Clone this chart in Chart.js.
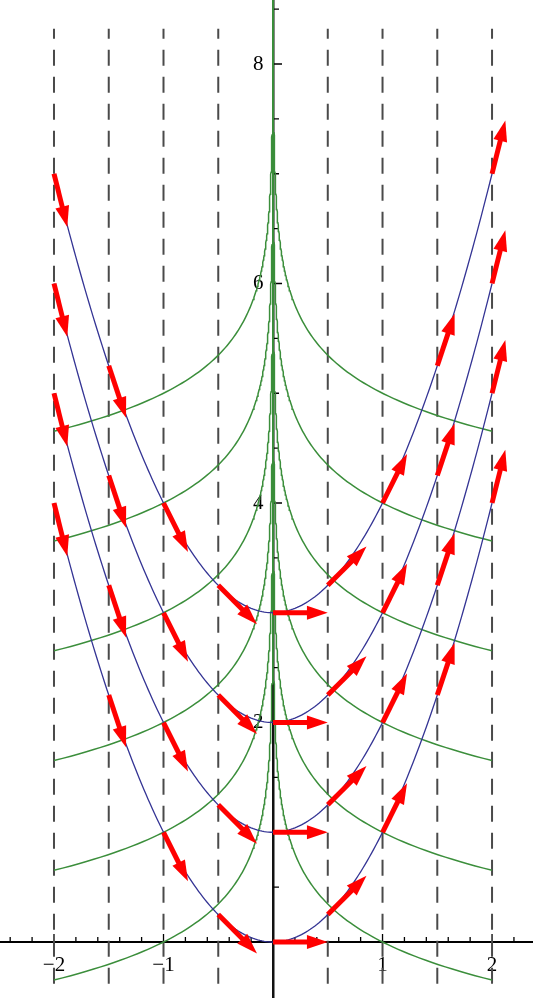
<!DOCTYPE html>
<html lang="en">
<head>
<meta charset="UTF-8" />
<title>Parabolas and orthogonal trajectories</title>
<script src="https://cdn.jsdelivr.net/npm/chart.js"></script>
<style>
    body { margin: 0; background: #fff; }
    .wrap { width: 533px; height: 998px; }
</style>
</head>
<body>
<div class="wrap"><canvas id="plot"></canvas></div>
<script>
// y = x^2 + c
const parabolaShifts = [0, 1, 2, 3];
// orthogonal family y = k - ln|x| / 2
const trajectoryLevels = [0, 1, 2, 3, 4, 5];
// tangent arrows sit at these x on every parabola
const arrowXs = [-2, -1.5, -1, -0.5, 0, 0.5, 1, 1.5, 2];
// dashed vertical guides
const guideXs = [-2, -1.5, -1, -0.5, 0.5, 1, 1.5, 2];
const guideSpan = [-0.38, 8.32];
const xTickValues = [-2, -1, 1, 2];
const yTickValues = [2, 4, 6, 8];

const arrowLength = 0.5;   // tip distance from the curve, data units
const headLength = 0.19;

const datasets = [];

guideXs.forEach(x => {
    datasets.push({
        data: [{ x: x, y: guideSpan[0] }, { x: x, y: guideSpan[1] }],
        borderColor: '#4a4a4a', borderWidth: 2, borderDash: [16, 11],
        pointRadius: 0, order: 4
    });
});

trajectoryLevels.forEach(k => {
    [-1, 1].forEach(side => {
        const pts = [];
        for (let s = Math.log(2); s > -19; s -= 0.04) {
            const ax = Math.exp(s);
            pts.push({ x: side * ax, y: k - Math.log(ax) / 2 });
        }
        datasets.push({
            data: pts, borderColor: '#3b8e3b', borderWidth: 1.5,
            pointRadius: 0, order: 3
        });
    });
});

parabolaShifts.forEach(c => {
    const pts = [];
    for (let i = 0; i <= 200; i++) {
        const x = -2 + i * 0.02;
        pts.push({ x: x, y: x * x + c });
    }
    datasets.push({
        data: pts, borderColor: '#343494', borderWidth: 1.3,
        pointRadius: 0, order: 2
    });
});

// shaft runs to the base of the head, the head is added by the plugin
parabolaShifts.forEach(c => {
    arrowXs.forEach(x0 => {
        const n = Math.hypot(1, 2 * x0);
        const dx = 1 / n, dy = 2 * x0 / n;
        const shaft = arrowLength - headLength + 0.04;
        datasets.push({
            data: [{ x: x0, y: x0 * x0 + c }, { x: x0 + shaft * dx, y: x0 * x0 + c + shaft * dy }],
            borderColor: '#ff0000', borderWidth: 5, borderCapStyle: 'butt',
            pointRadius: 0, order: 1, arrow: true, shaft: shaft
        });
    });
});

const arrowHeads = {
    id: 'arrowHeads',
    afterDatasetsDraw(chart) {
        const ctx = chart.ctx;
        ctx.save();
        ctx.fillStyle = '#ff0000';
        chart.data.datasets.forEach((ds, i) => {
            if (!ds.arrow) return;
            const [p0, p1] = chart.getDatasetMeta(i).data;
            const vx = (p1.x - p0.x) / ds.shaft, vy = (p1.y - p0.y) / ds.shaft;
            const tip = { x: p0.x + vx * arrowLength, y: p0.y + vy * arrowLength };
            const base = { x: p0.x + vx * (arrowLength - headLength), y: p0.y + vy * (arrowLength - headLength) };
            const len = Math.hypot(vx, vy);
            const nx = -vy / len * 7, ny = vx / len * 7;
            ctx.beginPath();
            ctx.moveTo(tip.x, tip.y);
            ctx.lineTo(base.x + nx, base.y + ny);
            ctx.lineTo(base.x - nx, base.y - ny);
            ctx.closePath();
            ctx.fill();
        });
        ctx.restore();
    }
};

// small tick marks pointing into the plot
const axisTicks = {
    id: 'axisTicks',
    beforeDatasetsDraw(chart) {
        const { ctx, scales: { x, y } } = chart;
        const x0 = x.getPixelForValue(0), y0 = y.getPixelForValue(0);
        ctx.save();
        ctx.strokeStyle = '#000';
        ctx.lineWidth = 1.3;
        ctx.beginPath();
        for (let i = -12; i <= 11; i++) {
            if (i === 0) continue;
            const px = x.getPixelForValue(i * 0.2);
            const len = i % 5 === 0 ? 8 : 5;
            ctx.moveTo(px, y0);
            ctx.lineTo(px, y0 - len);
        }
        for (let j = 1; j <= 17; j++) {
            const py = y.getPixelForValue(j * 0.5);
            const len = j % 4 === 0 ? 9 : 6;
            ctx.moveTo(x0, py);
            ctx.lineTo(x0 + len, py);
        }
        ctx.stroke();
        ctx.restore();
    }
};

// axes cross inside the plot, so their labels must not shrink the area
const noPadding = s => { s.paddingTop = s.paddingBottom = s.paddingLeft = s.paddingRight = 0; };

const labelFont = { family: '"Liberation Serif", "DejaVu Serif", serif', size: 21 };

new Chart(document.getElementById('plot'), {
    type: 'scatter',
    data: { datasets: datasets },
    plugins: [axisTicks, arrowHeads],
    options: {
        responsive: true,
        maintainAspectRatio: false,
        animation: false,
        showLine: true,
        layout: { padding: 0 },
        plugins: { legend: { display: false }, tooltip: { enabled: false } },
        elements: { line: { tension: 0 } },
        scales: {
            x: {
                type: 'linear', min: -2.493, max: 2.374,
                position: { y: 0 },
                grid: { display: false, drawTicks: false },
                border: { display: true, color: '#000', width: 2 },
                afterBuildTicks: s => { s.ticks = xTickValues.map(v => ({ value: v })); },
                afterFit: noPadding,
                ticks: {
                    color: '#000', font: labelFont, padding: 11, maxRotation: 0,
                    callback: v => (v < 0 ? '\u2212' + Math.abs(v) : String(v))
                }
            },
            y: {
                type: 'linear', min: -0.51, max: 8.583,
                position: { x: 0 },
                grid: { display: false, drawTicks: false },
                border: { display: true, color: '#111', width: 2.5 },
                afterBuildTicks: s => { s.ticks = yTickValues.map(v => ({ value: v })); },
                afterFit: noPadding,
                ticks: {
                    color: '#000', font: labelFont,
                    callback: v => v + '\u2005\u2009'
                }
            }
        }
    }
});
</script>
</body>
</html>
